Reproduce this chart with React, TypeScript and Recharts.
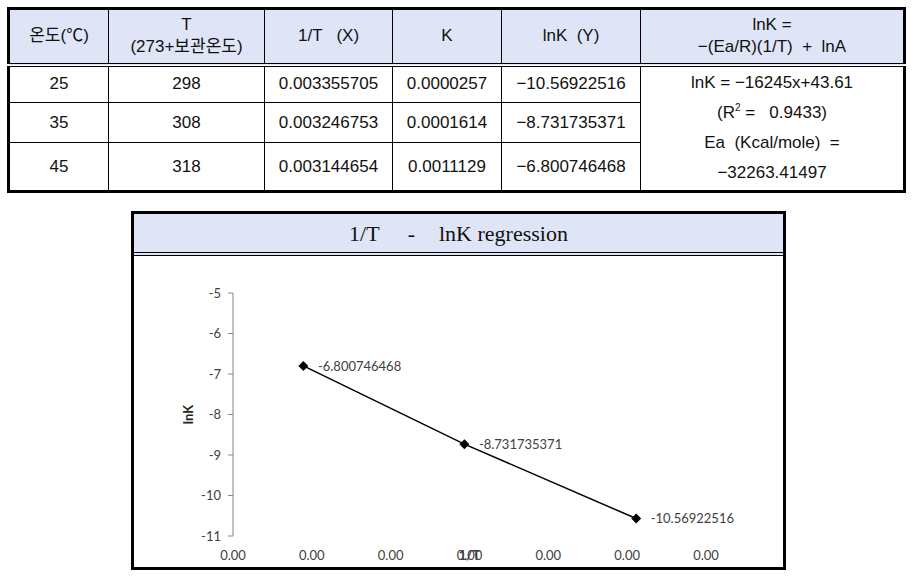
import React from "react";
import { ScatterChart, Scatter, XAxis, YAxis, LabelList } from "recharts";

const tempC = ["25", "35", "45"];
const tempK = ["298", "308", "318"];
const invT = [0.003355705, 0.003246753, 0.003144654];
const kValues = ["0.0000257", "0.0001614", "0.0011129"];
const lnK = [-10.56922516, -8.731735371, -6.800746468];
const xTicks = [0.0031, 0.00315, 0.0032, 0.00325, 0.0033, 0.00335, 0.0034];
const yTicks = [-11, -10, -9, -8, -7, -6, -5];

const BLUE = "#dfe5f7";
const tableFont = '"Liberation Sans", "Noto Sans CJK KR", sans-serif';
const chartFont = "Lato, sans-serif";

const minus = (v: number) => String(v).replace("-", "\u2212");

const points = invT
  .map((x, i) => ({ x, y: lnK[i] }))
  .sort((a, b) => a.x - b.x);

const Diamond = (props: any) => {
  const { cx, cy } = props;
  return (
    <path
      d={`M${cx},${cy - 5}L${cx + 5},${cy}L${cx},${cy + 5}L${cx - 5},${cy}Z`}
      fill="#000"
    />
  );
};

const th: React.CSSProperties = {
  background: BLUE,
  border: "1px solid #000",
  borderBottom: "4px double #000",
  fontWeight: "normal",
  lineHeight: "22px",
  padding: 0,
};
const td: React.CSSProperties = {
  border: "1px solid #000",
  textAlign: "center",
  padding: 0,
};

function DataTable() {
  return (
    <table
      style={{
        position: "absolute",
        left: 7,
        top: 7,
        width: 896,
        borderCollapse: "collapse",
        tableLayout: "fixed",
        border: "3px solid #000",
        fontFamily: tableFont,
        fontSize: 17,
        color: "#111",
      }}
    >
      <colgroup>
        <col style={{ width: 100 }} />
        <col style={{ width: 156 }} />
        <col style={{ width: 128 }} />
        <col style={{ width: 109 }} />
        <col style={{ width: 139 }} />
        <col style={{ width: 264 }} />
      </colgroup>
      <thead>
        <tr style={{ height: 56 }}>
          <th style={th}>온도(℃)</th>
          <th style={th}>
            T<br />(273+보관온도)
          </th>
          <th style={{ ...th, whiteSpace: "pre" }}>{"1/T   (X)"}</th>
          <th style={th}>K</th>
          <th style={{ ...th, whiteSpace: "pre" }}>{"lnK  (Y)"}</th>
          <th style={{ ...th, whiteSpace: "pre" }}>
            {"lnK ="}
            <br />
            {"\u2212(Ea/R)(1/T)  +  lnA"}
          </th>
        </tr>
      </thead>
      <tbody>
        {tempC.map((c, i) => (
          <tr key={c} style={{ height: [38, 40, 49][i] }}>
            <td style={td}>{c}</td>
            <td style={td}>{tempK[i]}</td>
            <td style={td}>{String(invT[i])}</td>
            <td style={td}>{kValues[i]}</td>
            <td style={td}>{minus(lnK[i])}</td>
            {i === 0 && (
              <td style={{ ...td, lineHeight: "30px", whiteSpace: "pre" }} rowSpan={3}>
                {"lnK = \u221216245x+43.61"}
                <br />
                {"(R"}
                <sup style={{ fontSize: 10, lineHeight: 0 }}>2</sup>
                {" =   0.9433)"}
                <br />
                {"Ea  (Kcal/mole)  ="}
                <br />
                {"\u221232263.41497"}
              </td>
            )}
          </tr>
        ))}
      </tbody>
    </table>
  );
}

function RegressionChart() {
  return (
    <div
      style={{
        position: "absolute",
        left: 131,
        top: 211,
        width: 649,
        height: 353,
        border: "3px solid #000",
        background: "#fff",
      }}
    >
      <div
        style={{
          height: 38,
          background: BLUE,
          borderBottom: "4px double #000",
          textAlign: "center",
          lineHeight: "40px",
          fontFamily: '"Liberation Serif", serif',
          fontSize: 22,
          whiteSpace: "pre",
          color: "#111",
        }}
      >
        <span>1/T</span>
        <span style={{ margin: "0 24px 0 28px" }}>-</span>
        <span>lnK regression</span>
      </div>
      <ScatterChart
        width={649}
        height={311}
        margin={{ top: 37, right: 77, bottom: 11, left: 39 }}
      >
        <XAxis
          type="number"
          dataKey="x"
          domain={[0.0031, 0.0034]}
          ticks={xTicks}
          tickFormatter={(v: number) => v.toFixed(2)}
          axisLine={false}
          tickLine={false}
          tickSize={0}
          tickMargin={15}
          height={20}
          tick={{ fill: "#404040", fontSize: 13, fontFamily: chartFont }}
          label={{
            content: ({ viewBox }: any) => (
              <text
                x={viewBox.x + viewBox.width / 2}
                y={viewBox.y + 24}
                textAnchor="middle"
                fontFamily={chartFont}
                fontSize={13}
                fontWeight="bold"
                fill="#404040"
              >
                1/T
              </text>
            ),
          }}
        />
        <YAxis
          type="number"
          dataKey="y"
          domain={[-11, -5]}
          ticks={yTicks}
          width={60}
          axisLine={{ stroke: "#868686" }}
          tickLine={{ stroke: "#868686" }}
          tickSize={5}
          tickMargin={7}
          tick={{ fill: "#404040", fontSize: 13, fontFamily: chartFont }}
          label={{
            content: ({ viewBox }: any) => {
              const x = viewBox.x + 15;
              const y = viewBox.y + viewBox.height / 2;
              return (
                <text
                  x={x}
                  y={y}
                  transform={`rotate(-90 ${x} ${y})`}
                  textAnchor="middle"
                  dominantBaseline="central"
                  fontFamily={chartFont}
                  fontSize={13}
                  fontWeight="bold"
                  fill="#222"
                >
                  lnK
                </text>
              );
            },
          }}
        />
        <Scatter
          data={points}
          fill="#000"
          line={{ stroke: "#000", strokeWidth: 1.5 }}
          shape={Diamond}
          isAnimationActive={false}
        >
          <LabelList
            dataKey="y"
            position="right"
            offset={10}
            fill="#404040"
            fontSize={13}
            fontFamily={chartFont}
          />
        </Scatter>
      </ScatterChart>
    </div>
  );
}

export default function App() {
  return (
    <div style={{ position: "absolute", left: 0, top: 0, width: 913, height: 577, background: "#fff" }}>
      <DataTable />
      <RegressionChart />
    </div>
  );
}
